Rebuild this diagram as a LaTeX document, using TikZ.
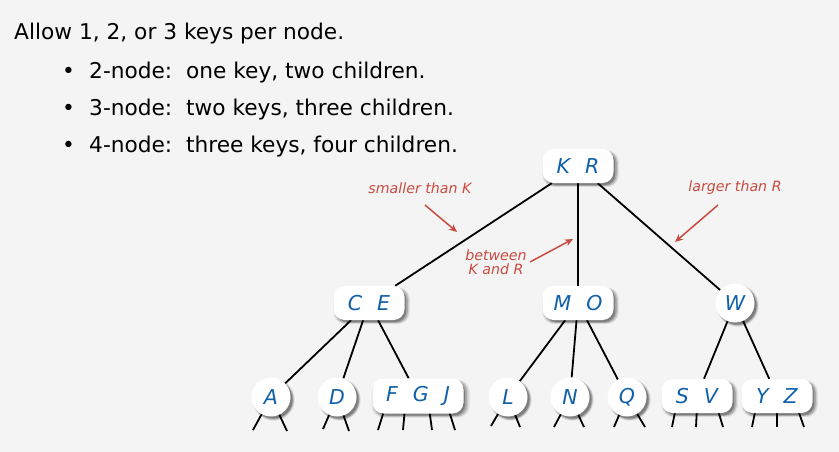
\documentclass[tikz,border=0pt]{standalone}
\usepackage{fontspec}
\setmainfont{DejaVu Sans}
\usetikzlibrary{shadows,arrows.meta}
\definecolor{bgc}{HTML}{F4F4F4}
\definecolor{keyblue}{RGB}{16,96,170}
\definecolor{annred}{RGB}{200,75,65}
\pgfdeclarelayer{backfill}
\pgfdeclarelayer{edges}
\pgfsetlayers{backfill,edges,main}
\newcommand{\kg}{\hspace{15pt}}
\begin{document}
\begin{tikzpicture}[x=1pt,y=1pt,
  softshadow/.style={
    general shadow={shadow xshift=2.5pt,shadow yshift=-2.5pt,shadow scale=1.08,fill=black,opacity=0.07},
    general shadow={shadow xshift=2.5pt,shadow yshift=-2.5pt,shadow scale=1.05,fill=black,opacity=0.10},
    general shadow={shadow xshift=2.5pt,shadow yshift=-2.5pt,shadow scale=1.02,fill=black,opacity=0.16},
    general shadow={shadow xshift=2.5pt,shadow yshift=-2.5pt,shadow scale=0.98,fill=black,opacity=0.25}},
  treenode/.style={fill=white, inner sep=0pt, softshadow, text=keyblue, font=\fontsize{20.5}{20}\selectfont\itshape},
  box2/.style={treenode, rectangle, rounded corners=11pt, minimum width=71pt, minimum height=34pt},
  box3/.style={box2, minimum width=91pt, minimum height=35pt},
  disc/.style={treenode, circle, minimum size=39pt},
  link/.style={line width=1.8pt},
  ann/.style={text=annred, font=\fontsize{14.2}{14}\selectfont\itshape, align=center, inner sep=0pt},
  annarrow/.style={draw=annred, line width=1.5pt, -{Stealth[length=8pt,width=7pt]}},
  body/.style={anchor=base west, inner sep=0pt, font=\fontsize{21.7}{24}\selectfont}
]
\begin{pgfonlayer}{backfill}
\fill[bgc] (0,0) rectangle (839,-452);
\end{pgfonlayer}
\useasboundingbox (0,0) rectangle (839,-452);

% text
\node[body] (t0) at (14,-39.8) {Allow 1, 2, or 3 keys per node.};
\node[body] (b1) at (62,-78.5) {•};
\node[body] (l1) at (89,-78.5) {2-node:\ \ one key, two children.};
\node[body] (b2) at (62,-115.5) {•};
\node[body] (l2) at (89,-115.5) {3-node:\ \ two keys, three children.};
\node[body] (b3) at (62,-152.5) {•};
\node[body] (l3) at (89,-152.5) {4-node:\ \ three keys, four children.};

% tree nodes
\node[box2] (KR) at (578,-166) {K\kg R};
\node[box2] (CE) at (369,-303) {C\kg E};
\node[box2] (MO) at (578,-303) {M\kg O};
\node[disc] (W) at (735,-303) {W};
\node[disc] (A) at (271,-397) {A};
\node[disc] (D) at (337,-397) {D};
\node[box3] (FGJ) at (418,-396) {F\kg G\kg J};
\node[disc] (L) at (508,-397) {L};
\node[disc] (N) at (570,-397) {N};
\node[disc] (Q) at (627,-397) {Q};
\node[box2] (SV) at (697,-396) {S\kg V};
\node[box2] (YZ) at (777,-396) {Y\kg Z};

% free ends
\coordinate (a1) at (253,-430);
\coordinate (a2) at (287,-431);
\coordinate (d1) at (323,-429);
\coordinate (d2) at (349,-431);
\coordinate (f1) at (378,-430);
\coordinate (f2) at (403,-430);
\coordinate (f3) at (432,-430);
\coordinate (f4) at (455,-430);
\coordinate (l1e) at (491,-426);
\coordinate (l2e) at (520,-427);
\coordinate (n1) at (554,-427);
\coordinate (n2) at (584,-427);
\coordinate (q1) at (614,-427);
\coordinate (q2) at (645,-427);
\coordinate (s1) at (672,-427);
\coordinate (s2) at (696,-427);
\coordinate (s3) at (723,-427);
\coordinate (y1) at (752,-427);
\coordinate (y2) at (777,-427);
\coordinate (y3) at (804,-427);

\begin{pgfonlayer}{edges}
\draw[link] (KR) -- (CE);
\draw[link] (KR) -- (MO);
\draw[link] (KR) -- (W);
\draw[link] (CE) -- (A);
\draw[link] (CE) -- (D);
\draw[link] (CE) -- (FGJ);
\draw[link] (MO) -- (L);
\draw[link] (MO) -- (N);
\draw[link] (MO) -- (Q);
\draw[link] (W) -- (SV);
\draw[link] (W) -- (YZ);
\draw[link] (A.center) -- (a1);
\draw[link] (A.center) -- (a2);
\draw[link] (D.center) -- (d1);
\draw[link] (D.center) -- (d2);
\draw[link] ([xshift=-33pt,yshift=6pt]FGJ.south) -- (f1);
\draw[link] ([xshift=-13pt,yshift=6pt]FGJ.south) -- (f2);
\draw[link] ([xshift=11pt,yshift=6pt]FGJ.south) -- (f3);
\draw[link] ([xshift=30pt,yshift=6pt]FGJ.south) -- (f4);
\draw[link] (L.center) -- (l1e);
\draw[link] (L.center) -- (l2e);
\draw[link] (N.center) -- (n1);
\draw[link] (N.center) -- (n2);
\draw[link] (Q.center) -- (q1);
\draw[link] (Q.center) -- (q2);
\draw[link] ([xshift=-21pt,yshift=6pt]SV.south) -- (s1);
\draw[link] ([yshift=6pt]SV.south) -- (s2);
\draw[link] ([xshift=20pt,yshift=6pt]SV.south) -- (s3);
\draw[link] ([xshift=-21pt,yshift=6pt]YZ.south) -- (y1);
\draw[link] ([yshift=6pt]YZ.south) -- (y2);
\draw[link] ([xshift=20pt,yshift=6pt]YZ.south) -- (y3);
\end{pgfonlayer}

% annotations
\node[ann] (sm) at (420,-188) {smaller than K};
\node[ann] (lg) at (735,-188) {larger than R};
\node[ann] (bt) at (496,-262) {between\\K and R};
\coordinate (smA) at (425,-205);
\coordinate (smB) at (457,-232);
\coordinate (btA) at (530,-262);
\coordinate (btB) at (573,-239);
\coordinate (lgA) at (718,-205);
\coordinate (lgB) at (675,-242);
\draw[annarrow] (smA) -- (smB);
\draw[annarrow] (btA) -- (btB);
\draw[annarrow] (lgA) -- (lgB);
\end{tikzpicture}
\end{document}
